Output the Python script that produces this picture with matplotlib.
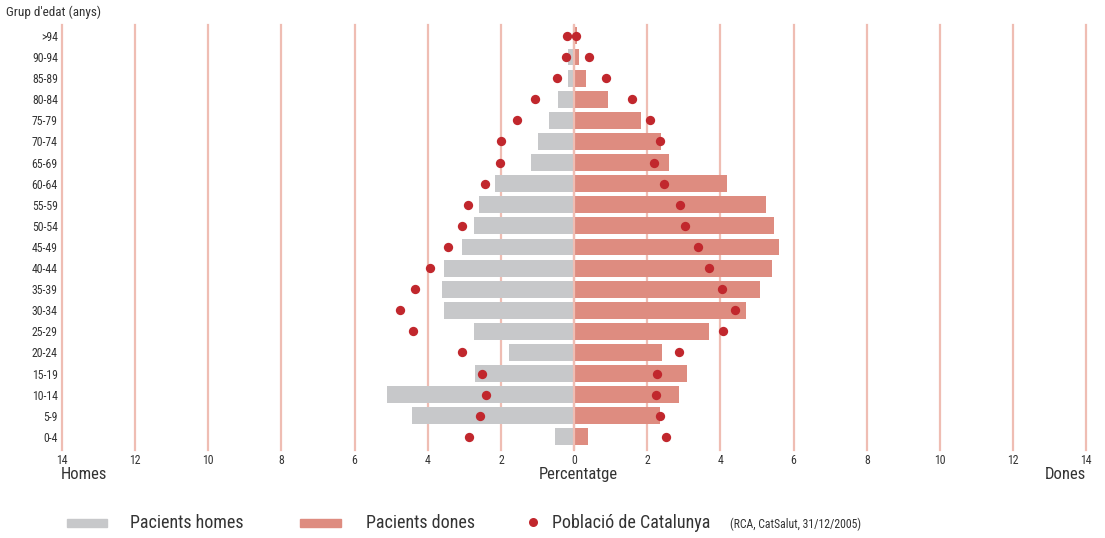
import numpy as np
import matplotlib
matplotlib.use('Agg')
import matplotlib.pyplot as plt
from matplotlib import font_manager
from matplotlib.patches import Rectangle
from matplotlib.lines import Line2D

# pick a narrow font if one is there
names = set(f.name for f in font_manager.fontManager.ttflist)
for fam in ['Liberation Sans Narrow', 'Roboto Condensed', 'Open Sans Condensed']:
    if fam in names:
        plt.rcParams['font.family'] = [fam, 'DejaVu Sans']
        break
else:
    plt.rcParams['font.family'] = ['DejaVu Sans']
    plt.rcParams['font.stretch'] = 'condensed'

# data, top group first
age_groups = ['>94', '90-94', '85-89', '80-84', '75-79', '70-74', '65-69', '60-64',
              '55-59', '50-54', '45-49', '40-44', '35-39', '30-34', '25-29', '20-24',
              '15-19', '10-14', '5-9', '0-4']
pacients_homes = [0.0, 0.16, 0.16, 0.44, 0.68, 0.98, 1.17, 2.16, 2.6, 2.73,
                  3.06, 3.55, 3.61, 3.55, 2.73, 1.78, 2.7, 5.11, 4.43, 0.52]
pacients_dones = [0.07, 0.14, 0.32, 0.92, 1.83, 2.38, 2.59, 4.18, 5.25, 5.46,
                  5.6, 5.41, 5.08, 4.69, 3.69, 2.40, 3.08, 2.86, 2.34, 0.38]
poblacio_homes = [0.19, 0.21, 0.46, 1.06, 1.56, 1.99, 2.02, 2.44, 2.9, 3.06,
                  3.45, 3.93, 4.34, 4.76, 4.4, 3.07, 2.53, 2.42, 2.58, 2.87]
poblacio_dones = [0.05, 0.40, 0.87, 1.58, 2.06, 2.35, 2.19, 2.46, 2.9, 3.03,
                  3.39, 3.68, 4.03, 4.40, 4.08, 2.86, 2.27, 2.23, 2.34, 2.52]
x_ticks = np.arange(-14, 15, 2)

grey = '#c7c8ca'
pink = '#de8c80'
red = '#c1272d'
gridc = '#efbdb3'
textc = '#333333'

fig = plt.figure(figsize=(11.05, 5.38), dpi=100)
ax = fig.add_axes([0.0561, 0.1636, 0.9270, 0.79])

y = np.arange(len(age_groups))[::-1]

for xv in x_ticks:
    ax.axvline(xv, color=gridc, lw=1.6, zorder=0, clip_on=False)

ax.barh(y, -np.array(pacients_homes), height=0.8, color=grey, zorder=2)
ax.barh(y, pacients_dones, height=0.8, color=pink, zorder=2)
ax.axvline(0, color=gridc, lw=1.6, zorder=3)
ax.scatter(-np.array(poblacio_homes), y, s=45, color=red, zorder=4, linewidths=0)
ax.scatter(poblacio_dones, y, s=45, color=red, zorder=4, linewidths=0)

ax.set_xlim(-14, 14)
ax.set_ylim(-0.62, 19.52)
ax.set_xticks(x_ticks)
ax.set_xticklabels([str(abs(v)) for v in x_ticks], fontsize=8.5, color=textc)
ax.set_yticks(y)
ax.set_yticklabels(age_groups, fontsize=8.5, color=textc)
ax.tick_params(length=0, pad=3)
for s in ax.spines.values():
    s.set_visible(False)

fig.text(0.005, 0.977, "Grup d'edat (anys)", fontsize=9.5, color=textc, va='center', ha='left')
fig.text(0.0552, 0.118, 'Homes', fontsize=12, color=textc, va='center', ha='left')
fig.text(0.523, 0.118, 'Percentatge', fontsize=12, color=textc, va='center', ha='center')
fig.text(0.9828, 0.118, 'Dones', fontsize=12, color=textc, va='center', ha='right')

# legend drawn by hand
ly = 0.028
fig.patches.append(Rectangle((0.0606, ly - 0.008), 0.036, 0.016, transform=fig.transFigure, color=grey))
fig.text(0.118, ly, 'Pacients homes', fontsize=13, color=textc, va='center', ha='left')
fig.patches.append(Rectangle((0.2715, ly - 0.008), 0.037, 0.016, transform=fig.transFigure, color=pink))
fig.text(0.331, ly, 'Pacients dones', fontsize=13, color=textc, va='center', ha='left')
fig.lines.append(Line2D([0.4825], [ly + 0.002], transform=fig.transFigure, marker='o',
                        markersize=6.5, color=red, markeredgewidth=0))
fig.text(0.4995, ly, 'Població de Catalunya', fontsize=13, color=textc, va='center', ha='left')
fig.text(0.661, ly - 0.002, '(RCA, CatSalut, 31/12/2005)', fontsize=8.5, color=textc, va='center', ha='left')

fig.savefig('out.png', dpi=100)
